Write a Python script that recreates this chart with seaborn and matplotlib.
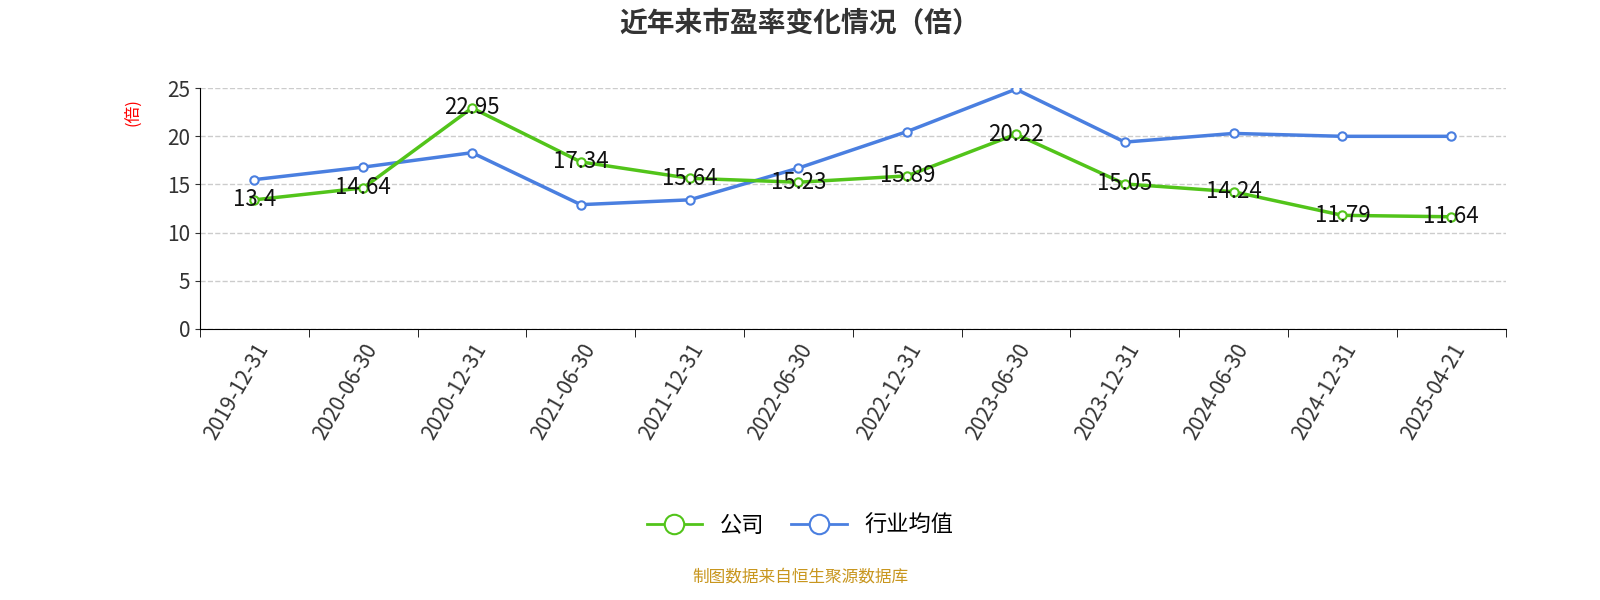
import matplotlib
matplotlib.use("Agg")
import matplotlib.pyplot as plt
import seaborn as sns
import pandas as pd

dates = ["2019-12-31","2020-06-30","2020-12-31","2021-06-30","2021-12-31","2022-06-30",
         "2022-12-31","2023-06-30","2023-12-31","2024-06-30","2024-12-31","2025-04-21"]
company = [13.4,14.64,22.95,17.34,15.64,15.23,15.89,20.22,15.05,14.24,11.79,11.64]
industry = [15.5,16.8,18.3,12.9,13.4,16.7,20.5,24.9,19.4,20.3,20.0,20.0]

plt.rcParams["font.family"] = "sans-serif"
plt.rcParams["font.sans-serif"] = ["Noto Sans CJK SC", "Noto Sans CJK JP", "Noto Sans CJK TC", "DejaVu Sans"]
fig = plt.figure(figsize=(16, 6), dpi=100)
ax = fig.add_axes([0.125, 0.452, 0.816, 0.401])
x = list(range(len(dates)))
for vals, c in [(industry, "#4a7fe0"), (company, "#52c41a")]:
    sns.lineplot(x=x, y=vals, color=c, marker="o", markersize=6, markerfacecolor="white",
                 markeredgecolor=c, markeredgewidth=1.5, linewidth=2.5, ax=ax, legend=False)
for xi, v in zip(x, company):
    ax.text(xi, v, f"{v:g}", ha="center", va="center", fontsize=16, color="#111")
ax.set_xlim(-0.5, 11.5)
ax.set_ylim(0, 25)
ax.set_yticks([0, 5, 10, 15, 20, 25])
ax.set_xticks(x)
ax.set_xticklabels(dates, rotation=60, ha="right", rotation_mode="anchor", fontsize=15, color="#333")
ax.tick_params(axis="y", labelsize=15, colors="#333")
ax.set_xticks([i - 0.5 for i in range(13)], minor=True)
ax.tick_params(axis="x", which="major", length=0, pad=8)
ax.tick_params(axis="x", which="minor", length=6)
ax.grid(axis="y", linestyle="--", color="#ccc", linewidth=1)
for s in ["top", "right"]:
    ax.spines[s].set_visible(False)
ax.set_xlabel("")
ax.set_ylabel("(倍)", color="red", fontsize=12)
ax.yaxis.set_label_coords(-0.045, 0.9)
fig.text(0.5, 0.96, "近年来市盈率变化情况（倍）", ha="center", va="center", fontsize=20, fontweight="bold", color="#333")
from matplotlib.lines import Line2D
h = [Line2D([], [], color=c, marker="o", markersize=14, markerfacecolor="white", linewidth=2, markeredgewidth=1.5)
     for c in ["#52c41a", "#4a7fe0"]]
fig.legend(h, ["公司", "行业均值"], loc="center", bbox_to_anchor=(0.5, 0.125), ncol=2, frameon=False,
           fontsize=16, handlelength=2.5, columnspacing=1.2)
fig.text(0.5, 0.038, "制图数据来自恒生聚源数据库", ha="center", va="center", fontsize=12, color="#c8961e")
fig.savefig("out.png")
